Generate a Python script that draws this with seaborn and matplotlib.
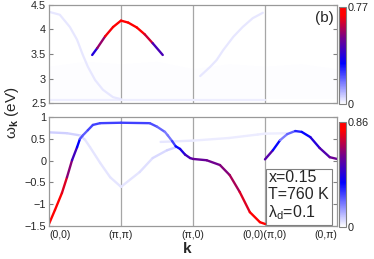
import numpy as np
import matplotlib
matplotlib.use('Agg')
import matplotlib.pyplot as plt
import seaborn as sns
from matplotlib.collections import LineCollection
from matplotlib.colors import LinearSegmentedColormap, Normalize
from matplotlib.cm import ScalarMappable

# k path nodes and labels
k_nodes = [0, 1, 2, 3, 4]
k_labels = ['(0,0)', '(π,π)', '(π,0)', '(0,0)(π,0)', '(0,π)']

# top panel (vmax 0.77)
top_vmax = 0.77
top_main_k = [0.60, 0.67, 0.78, 0.89, 1.00, 1.10, 1.22, 1.33, 1.44, 1.58]
top_main_E = [3.48, 3.62, 3.86, 4.05, 4.18, 4.14, 4.04, 3.90, 3.72, 3.48]
top_main_w = [0.28, 0.48, 0.66, 0.73, 0.76, 0.75, 0.73, 0.70, 0.58, 0.32]

topA_k = [0, 0.15, 0.29, 0.39, 0.47, 0.54, 0.64, 0.75, 0.89, 1.0]
topA_E = [4.36, 4.30, 4.05, 3.79, 3.48, 3.24, 2.97, 2.77, 2.62, 2.58]
topB_k = [2.10, 2.24, 2.33, 2.42, 2.56, 2.69, 2.83, 2.97]
topB_E = [3.05, 3.24, 3.38, 3.58, 3.85, 4.05, 4.23, 4.34]
top_floor_k = [0, 1, 2, 3]
top_floor_E = [2.56, 2.56, 2.56, 2.56]
diffuse_k = [0, 0.5, 1, 1.5, 2, 2.5, 3, 3.5, 4]
diffuse_lo = [2.6, 2.6, 2.6, 2.6, 2.6, 2.6, 2.6, 2.6, 2.6]
diffuse_hi = [3.25, 3.35, 3.3, 3.35, 3.2, 3.3, 3.25, 3.3, 3.2]

# bottom panel (vmax 0.86)
bot_vmax = 0.86
bot_main_k = [0, 0.083, 0.18, 0.25, 0.32, 0.39, 0.43, 0.47, 0.54, 0.61, 0.71, 1.0, 1.40,
              1.50, 1.61, 1.65, 1.71, 1.76, 1.82, 1.89, 1.96, 2.0, 2.19, 2.375, 2.51,
              2.65, 2.79, 2.93, 3.0]
bot_main_E = [-1.45, -1.13, -0.74, -0.38, 0.01, 0.31, 0.50, 0.58, 0.70, 0.82, 0.86, 0.87, 0.86,
              0.78, 0.66, 0.58, 0.45, 0.33, 0.27, 0.14, 0.06, 0.04, 0.01, -0.10, -0.33,
              -0.72, -1.18, -1.41, -1.45]
bot_main_w = [0.86, 0.85, 0.80, 0.68, 0.55, 0.42, 0.30, 0.20, 0.26, 0.27, 0.27, 0.27, 0.27,
              0.24, 0.20, 0.17, 0.22, 0.33, 0.38, 0.45, 0.52, 0.55, 0.57, 0.59, 0.63,
              0.70, 0.78, 0.84, 0.86]
bot_right_k = [3.0, 3.11, 3.21, 3.31, 3.42, 3.51, 3.63, 3.76, 3.90, 4.0]
bot_right_E = [0.03, 0.24, 0.47, 0.61, 0.68, 0.66, 0.54, 0.29, 0.08, 0.04]
bot_right_w = [0.58, 0.48, 0.22, 0.15, 0.30, 0.33, 0.38, 0.48, 0.56, 0.58]

faint1_k = [0, 0.25, 0.43, 0.50, 0.57, 0.71, 0.85, 1.0, 1.26, 1.44, 1.64, 1.75]
faint1_E = [0.65, 0.63, 0.58, 0.48, 0.31, -0.05, -0.38, -0.60, -0.26, 0.06, 0.24, 0.30]
faint1_w = [0.07, 0.07, 0.06, 0.04, 0.04, 0.04, 0.04, 0.04, 0.04, 0.05, 0.06, 0.07]
faint2_k = [1.55, 2.0, 2.5, 2.9, 3.0, 3.3]
faint2_E = [0.43, 0.46, 0.52, 0.60, 0.62, 0.63]
faint2_w = [0.04, 0.03, 0.03, 0.03, 0.03, 0.02]

cmap = LinearSegmentedColormap.from_list('spec', [(0, (1, 1, 1)), (0.42, (0, 0, 1)),
                                                  (0.68, (0.45, 0, 0.55)), (0.92, (1, 0, 0)),
                                                  (1, (1, 0, 0))])

sns.set_style('white')
plt.rcParams['font.family'] = ['Liberation Sans', 'DejaVu Sans']
plt.rcParams['mathtext.fontset'] = 'custom'
plt.rcParams['mathtext.rm'] = 'Liberation Sans'
plt.rcParams['mathtext.it'] = 'Liberation Sans:italic'
plt.rcParams['mathtext.bf'] = 'Liberation Sans:bold'


def colored_band(ax, k, e, w, vmax):
    pts = np.column_stack([k, e])
    segs = np.stack([pts[:-1], pts[1:]], axis=1)
    lc = LineCollection(segs, cmap=cmap, norm=Normalize(0, vmax), linewidths=1.7,
                        capstyle='round', joinstyle='round')
    w = np.asarray(w)
    lc.set_array((w[:-1] + w[1:]) / 2)
    ax.add_collection(lc)


def faint_band(ax, k, e, level):
    sns.lineplot(x=k, y=e, ax=ax, color=cmap(level), lw=1.6, sort=False, estimator=None)


fig = plt.figure(figsize=(3.74, 2.59), dpi=100)
ax1 = fig.add_axes([0.131, 0.602, 0.770, 0.379])
ax2 = fig.add_axes([0.131, 0.127, 0.770, 0.421])
cax1 = fig.add_axes([0.906, 0.598, 0.019, 0.375])
cax2 = fig.add_axes([0.906, 0.124, 0.019, 0.405])

# top panel
ax1.fill_between(diffuse_k, diffuse_lo, diffuse_hi, color=cmap(0.007), lw=0, zorder=0.2)
faint_band(ax1, top_floor_k, top_floor_E, 0.03)
faint_band(ax1, topA_k, topA_E, 0.042)
faint_band(ax1, topB_k, topB_E, 0.042)
colored_band(ax1, top_main_k, top_main_E, top_main_w, top_vmax)

# bottom panel
colored_band(ax2, faint1_k, faint1_E, faint1_w, bot_vmax)
colored_band(ax2, faint2_k, faint2_E, faint2_w, bot_vmax)
colored_band(ax2, bot_main_k, bot_main_E, bot_main_w, bot_vmax)
colored_band(ax2, bot_right_k, bot_right_E, bot_right_w, bot_vmax)

for ax in (ax1, ax2):
    ax.set_xlim(0, 4)
    for kn in k_nodes[1:-1]:
        ax.axvline(kn, color='0.65', lw=0.9, zorder=0.5)
    for s in ax.spines.values():
        s.set_color('0.6')
        s.set_linewidth(0.9)
    ax.tick_params(axis='y', direction='in', length=3, left=True, right=True,
                   color='0.5', labelsize=7.8, pad=2)
    ax.tick_params(axis='x', length=0, labelsize=7.6, pad=3)
    ax.set_xlabel('')
    ax.set_ylabel('')

ax1.set_ylim(2.5, 4.5)
ax1.set_yticks([2.5, 3, 3.5, 4, 4.5])
ax1.set_yticklabels(['2.5', '3', '3.5', '4', '4.5'])
ax1.set_xticks(k_nodes)
ax1.set_xticklabels([])

ax2.set_ylim(-1.5, 1)
ax2.set_yticks([-1.5, -1, -0.5, 0, 0.5, 1])
ax2.set_yticklabels(['−1.5', '−1', '−0.5', '0', '0.5', '1'])
ax2.set_xticks(k_nodes)
ax2.set_xticklabels(k_labels)
xl = ax2.get_xticklabels()
xl[0].set_ha('left')
xl[-1].set_ha('right')

ax1.text(0.99, 0.865, '(b)', transform=ax1.transAxes, ha='right', va='center', fontsize=11)
ax2.text(0.762, 0.035, 'x=0.15\nT=760 K\n$\\mathrm{\\lambda_d}$=0.1', transform=ax2.transAxes,
         ha='left', va='bottom', fontsize=11.5, linespacing=1.12,
         bbox=dict(boxstyle='square,pad=0.18', fc='white', ec='0.5', lw=0.8))

fig.text(0.033, 0.565, '$\\mathrm{\\omega}_\\mathbf{k}$ (eV)', rotation=90, ha='center',
         va='center', fontsize=11)
fig.text(0.50, 0.038, 'k', ha='center', va='center', fontsize=11, fontweight='bold')

for cax, vmax, lab in ((cax1, top_vmax, '0.77'), (cax2, bot_vmax, '0.86')):
    cb = fig.colorbar(ScalarMappable(norm=Normalize(0, vmax), cmap=cmap), cax=cax)
    cb.set_ticks([0, vmax])
    cb.set_ticklabels(['0', lab])
    cb.outline.set_edgecolor('0.5')
    cb.outline.set_linewidth(0.8)
    cax.tick_params(length=0, labelsize=7.8, pad=1)

fig.savefig('out.png', dpi=100)
